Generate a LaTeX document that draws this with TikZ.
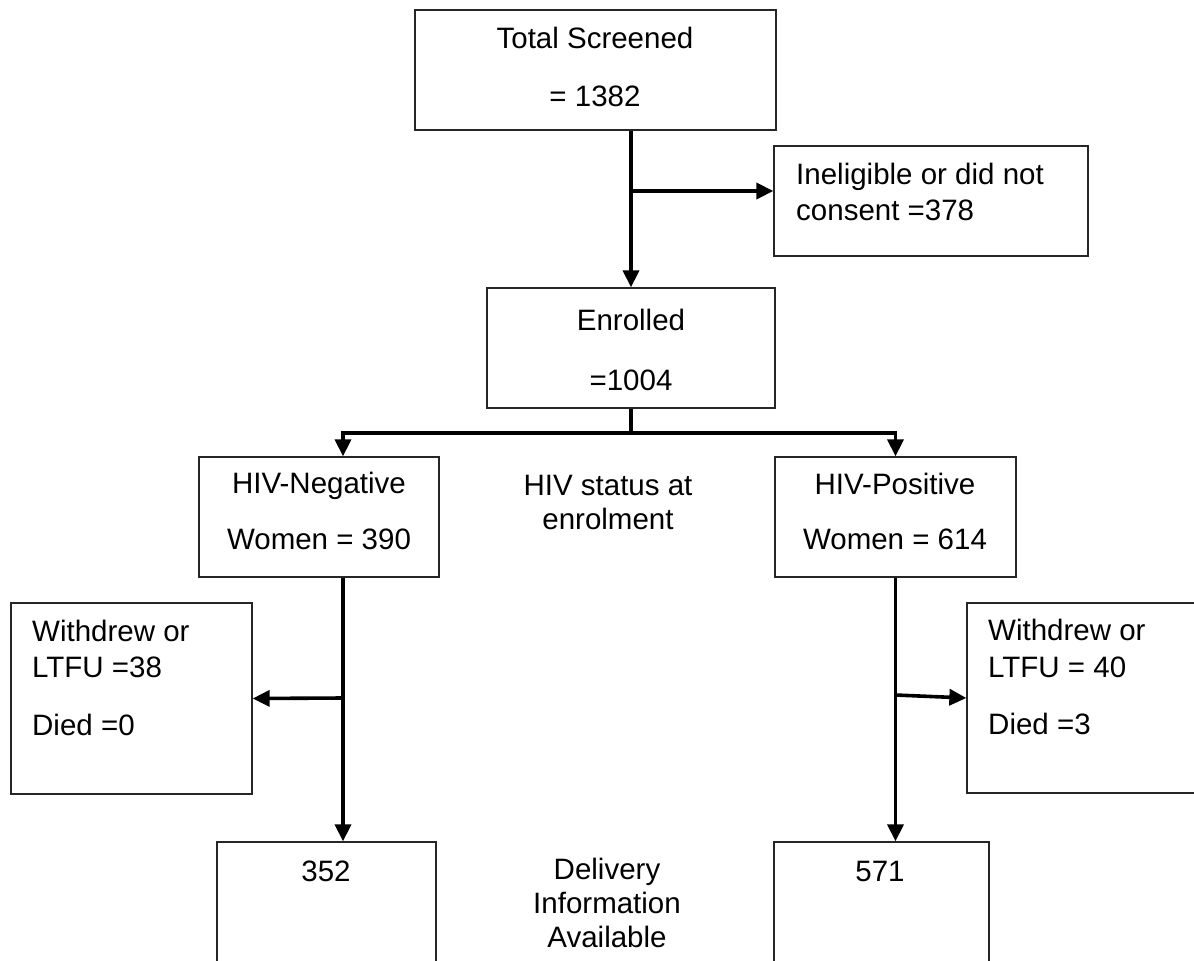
\documentclass[tikz,border=0pt]{standalone}
\usepackage{fontspec}
\setmainfont{Liberation Sans}
\usetikzlibrary{arrows.meta}
\begin{document}
\begin{tikzpicture}[x=1pt,y=-1pt,
  box/.style={draw=black!85, line width=1.3pt, inner sep=0pt, rectangle},
  txt/.style={inner sep=0pt, font=\fontsize{29.5}{34}\selectfont},
  ln/.style={line width=3.6pt},
  arr/.style={line width=3.6pt, -{Triangle[length=17pt,width=16pt]}}]
\useasboundingbox (0,0) rectangle (1194,961);
\clip (0,0) rectangle (1194,961);
\fill[white] (0,0) rectangle (1194,961);

% boxes
\node[box, minimum width=361pt, minimum height=120pt] (total) at (595.5,70) {};
\node[box, minimum width=314pt, minimum height=110pt] (inel) at (931,201) {};
\node[box, minimum width=288pt, minimum height=120pt] (enr) at (631,348) {};
\node[box, minimum width=240pt, minimum height=120pt] (neg) at (319,517) {};
\node[box, minimum width=241pt, minimum height=120pt] (pos) at (895.5,517) {};
\node[box, minimum width=241pt, minimum height=191pt] (wl) at (131.5,698.5) {};
\node[box, minimum width=253pt, minimum height=190pt] (wr) at (1093.5,698) {};
\node[box, minimum width=219pt, minimum height=158pt] (b352) at (326.5,921) {};
\node[box, minimum width=215pt, minimum height=158pt] (b571) at (881.5,921) {};

% texts
\node[txt, anchor=base] (t1a) at (595,48) {Total Screened};
\node[txt, anchor=base] (t1b) at (595,106) {= 1382};
\node[txt, anchor=base west] (t2a) at (796,184) {Ineligible or did not};
\node[txt, anchor=base west] (t2b) at (796,220) {consent =378};
\node[txt, anchor=base] (t3a) at (631,330) {Enrolled};
\node[txt, anchor=base] (t3b) at (631,390) {=1004};
\node[txt, anchor=base] (t4a) at (319,493) {HIV-Negative};
\node[txt, anchor=base] (t4b) at (319,549) {Women = 390};
\node[txt, anchor=base] (t5a) at (895,494) {HIV-Positive};
\node[txt, anchor=base] (t5b) at (895,549) {Women = 614};
\node[txt, anchor=base] (t6a) at (608,495) {HIV status at};
\node[txt, anchor=base] (t6b) at (608,529) {enrolment};
\node[txt, anchor=base west] (t7a) at (32,641) {Withdrew or};
\node[txt, anchor=base west] (t7b) at (32,677) {LTFU =38};
\node[txt, anchor=base west] (t7c) at (32,735) {Died =0};
\node[txt, anchor=base west] (t8a) at (988,640) {Withdrew or};
\node[txt, anchor=base west] (t8b) at (988,677) {LTFU = 40};
\node[txt, anchor=base west] (t8c) at (988,734) {Died =3};
\node[txt, anchor=base] (t9) at (326,881) {352};
\node[txt, anchor=base] (t10) at (880,881) {571};
\node[txt, anchor=base] (t11a) at (607,879) {Delivery};
\node[txt, anchor=base] (t11b) at (607,913) {Information};
\node[txt, anchor=base] (t11c) at (607,947) {Available};

% junctions
\coordinate (j1) at (631,191);
\coordinate (split) at (631,433);
\coordinate (negx) at (343,433);
\coordinate (posx) at (895.5,433);
\coordinate (j3) at (343,698);
\coordinate (j4) at (895.5,695);

% connectors
\draw[arr] (total.south -| enr.north) -- (enr.north);
\draw[arr] (j1) -- (j1 -| inel.west);
\draw[ln] (enr.south) -- (split);
\draw[arr] (split) -- (negx) -- (negx |- neg.north);
\draw[arr] (split) -- (posx) -- (pos.north);
\draw[arr] (negx |- neg.south) -- (negx |- b352.north);
\draw[arr] (j3) -- (wl.east);
\draw[arr] (pos.south) -- (pos.south |- b571.north);
\draw[arr] (j4) -- (wr.west);
\end{tikzpicture}
\end{document}
